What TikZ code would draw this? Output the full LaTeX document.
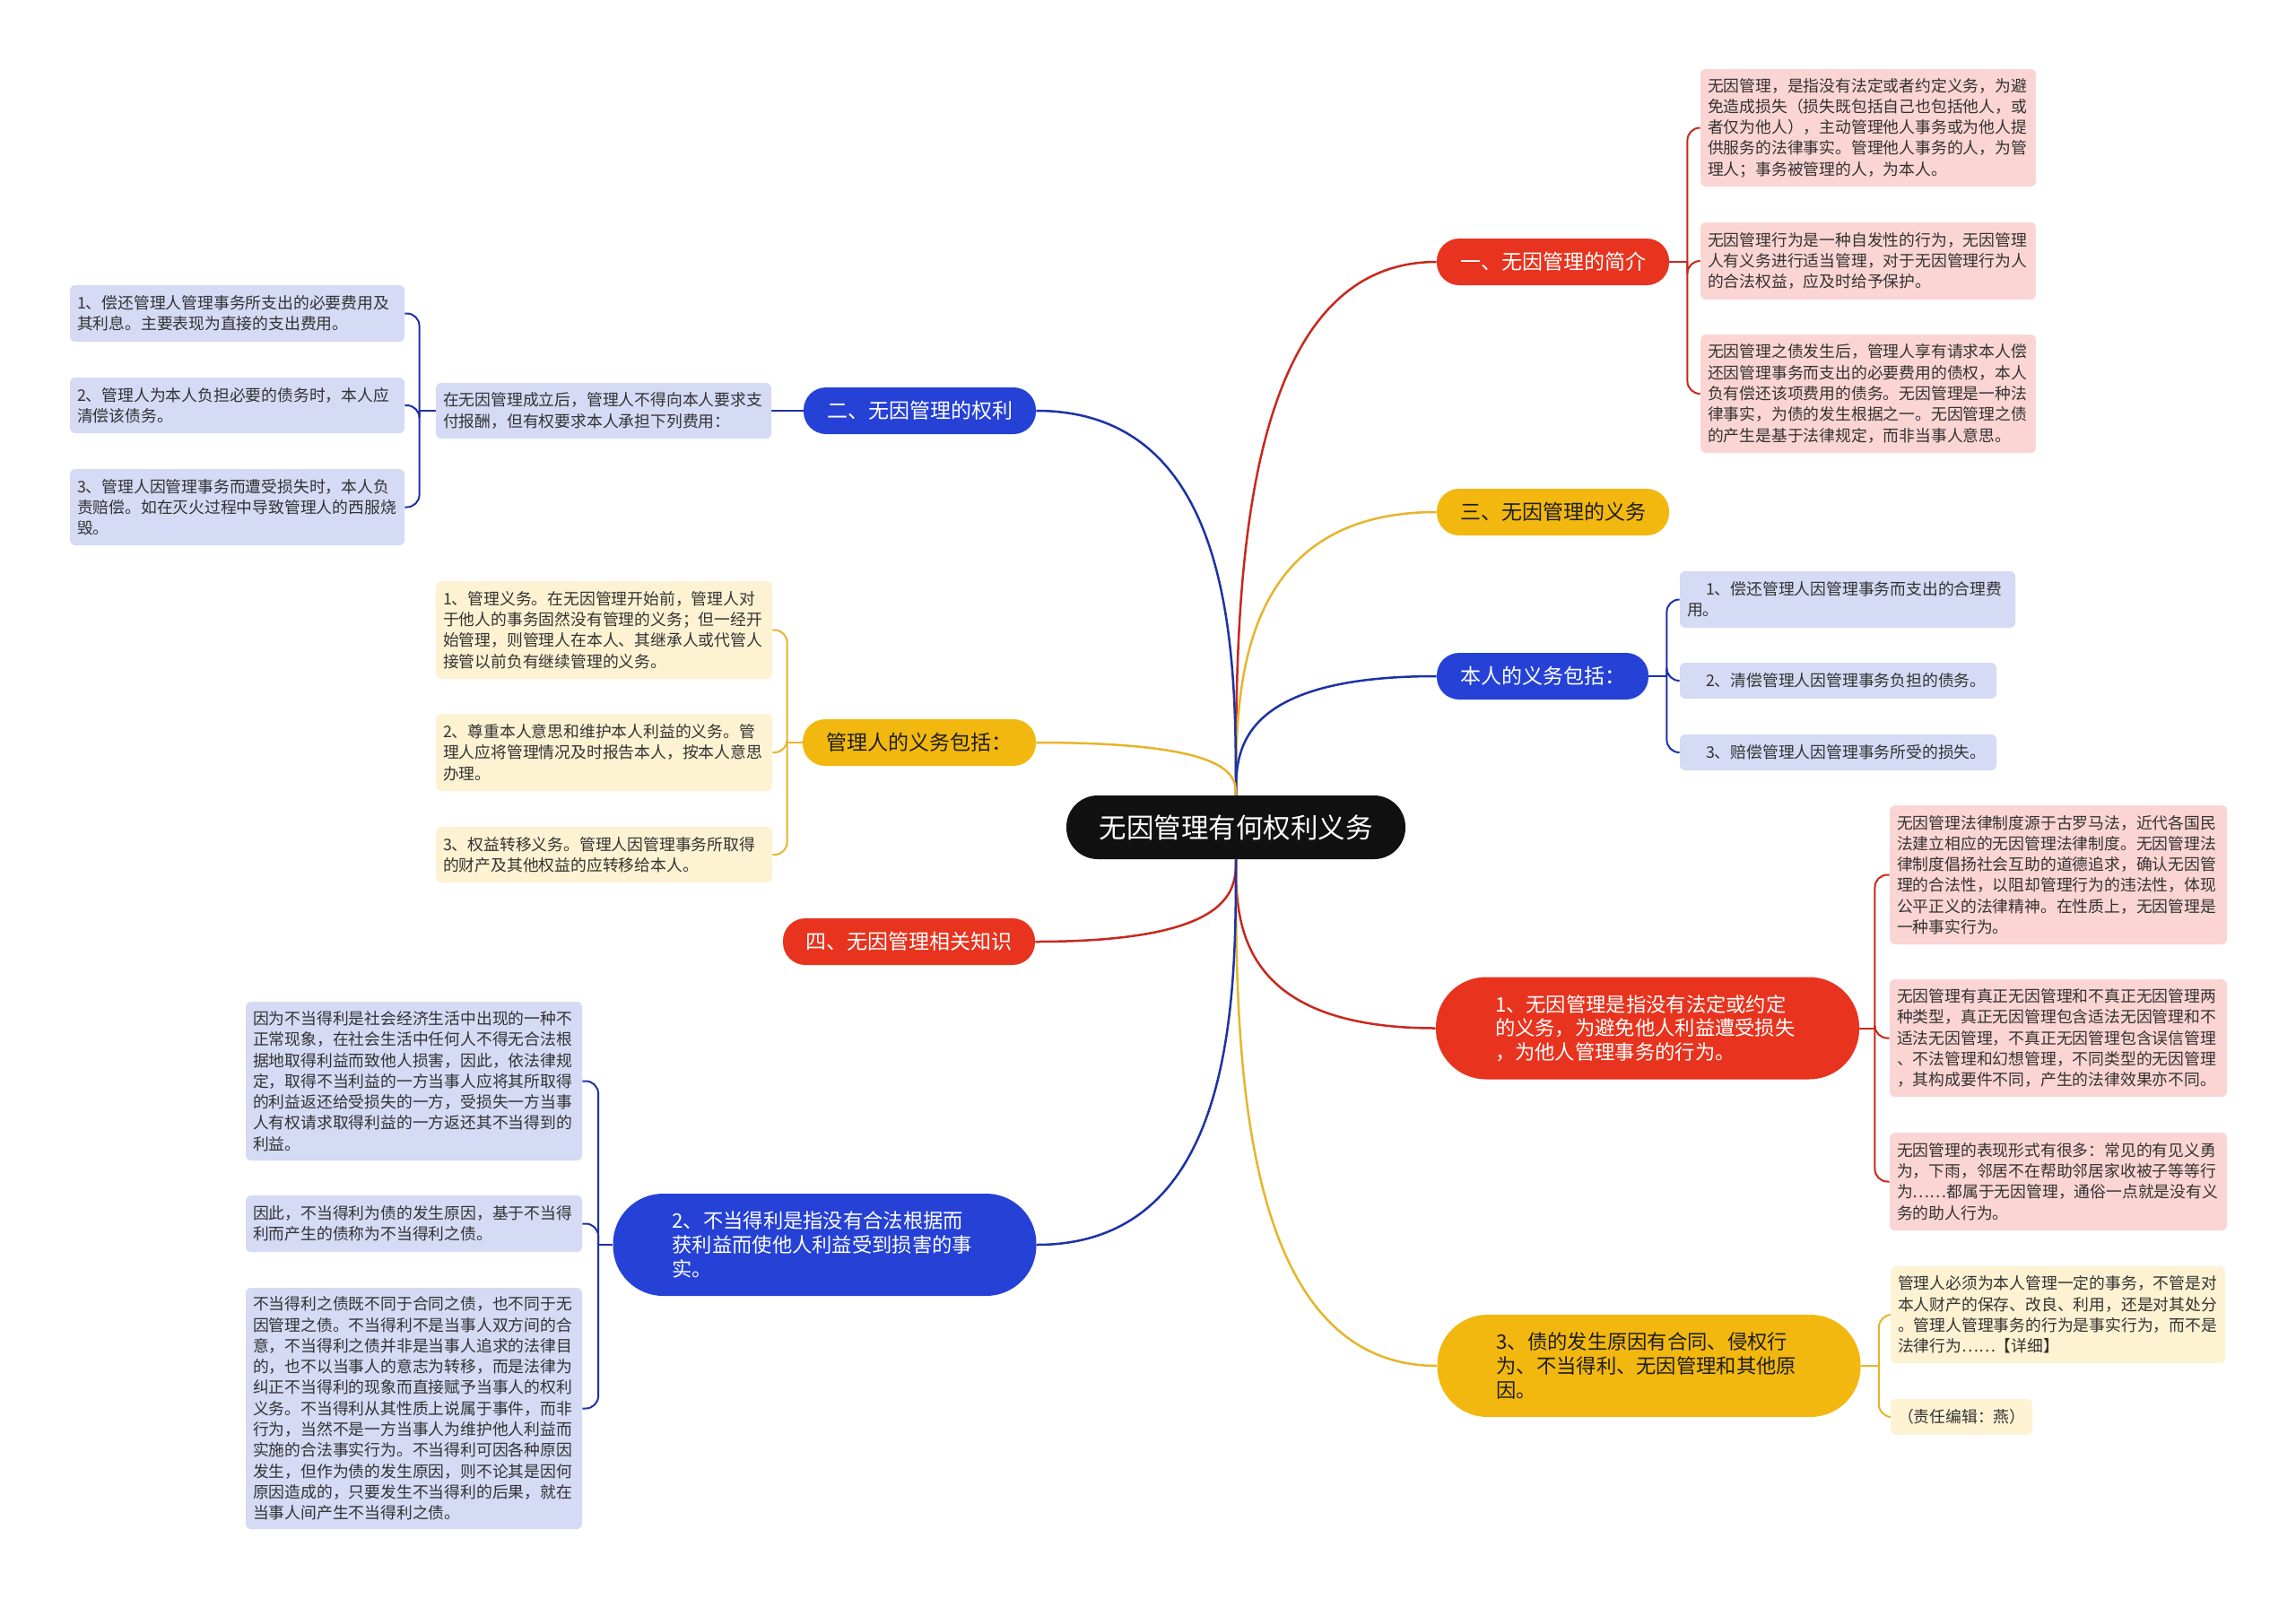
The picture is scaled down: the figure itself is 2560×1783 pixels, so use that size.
\documentclass[tikz,border=0pt]{standalone}
\usepackage{fontspec}
\newfontfamily\cjk{Noto Sans CJK SC}
\usetikzlibrary{calc,backgrounds}
\definecolor{redfill}{HTML}{E8331E}
\definecolor{redline}{HTML}{C8281E}
\definecolor{bluefill}{HTML}{2541D6}
\definecolor{blueline}{HTML}{1D32A6}
\definecolor{yellowfill}{HTML}{F2B80F}
\definecolor{yellowline}{HTML}{E6B52C}
\definecolor{pinkleaf}{HTML}{FBD5D3}
\definecolor{blueleaf}{HTML}{D5DAF5}
\definecolor{yellowleaf}{HTML}{FDF2D2}
\definecolor{leaftext}{HTML}{333333}
\definecolor{darktext}{HTML}{1E1E1E}
\definecolor{rootfill}{HTML}{111111}
\newcommand\mainlink[3]{%
  \draw[#3, line width=1.25pt] let \p1=(#1), \p2=(#2) in
    (\p1) .. controls (\x1,{\y1+0.36*(\y2-\y1)}) and (\x1,\y2) .. (\p2);}
\newcommand\brk[3]{\draw[#3, line width=1pt, rounded corners=7pt] (#1) |- (#2);}
\begin{document}
\begin{tikzpicture}[x=0.5pt,y=-0.5pt,
  leaf/.style={rounded corners=3pt, inner xsep=4pt, inner ysep=0pt, align=left,
    font=\cjk\fontsize{8.9pt}{11.65pt}\selectfont, text=leaftext},
  leafR/.style={leaf, fill=pinkleaf},
  leafB/.style={leaf, fill=blueleaf},
  leafY/.style={leaf, fill=yellowleaf},
  br/.style={rounded corners=12.5pt, minimum height=26pt, inner xsep=0pt, inner ysep=0pt,
    font=\cjk\fontsize{11.5pt}{13pt}\selectfont},
  brR/.style={br, fill=redfill, text=white},
  brB/.style={br, fill=bluefill, text=white},
  brY/.style={br, fill=yellowfill, text=darktext},
  big/.style={rounded corners=28pt, minimum height=57pt, minimum width=236pt, inner xsep=0pt,
    inner ysep=0pt, align=left, text width=170pt,
    font=\cjk\fontsize{11.15pt}{13.35pt}\selectfont},
  bigR/.style={big, fill=redfill, text=white},
  bigB/.style={big, fill=bluefill, text=white},
  bigY/.style={big, fill=yellowfill, text=darktext},
  rootbox/.style={rounded corners=17.5pt, minimum height=35.5pt, minimum width=189pt,
    fill=rootfill, text=white, font=\cjk\fontsize{15.25pt}{17pt}\selectfont},
  rl/.style={redline}, bl/.style={blueline}, yl/.style={yellowline}
]
\useasboundingbox (0,0) rectangle (2560,1783);

% root
\node[rootbox] (root) at (1378,922.5) {无因管理有何权利义务};

% right branches
\node[brR, minimum width=129.5pt] (A) at (1731.5,292) {一、无因管理的简介};
\node[brY, minimum width=129.5pt] (C) at (1731.5,571) {三、无因管理的义务};
\node[brB, minimum width=118pt] (D) at (1720,754) {本人的义务包括：};
\node[bigR] (E) at (1837,1146.5) {1、无因管理是指没有法定或约定\\的义务，为避免他人利益遭受损失\\，为他人管理事务的行为。};
\node[bigY] (F) at (1838.5,1523) {3、债的发生原因有合同、侵权行\\为、不当得利、无因管理和其他原\\因。};

% left branches
\node[brB, minimum width=129.5pt] (B) at (1025.5,458) {二、无因管理的权利};
\node[brY, minimum width=130pt] (G) at (1025,828) {管理人的义务包括：};
\node[brR, minimum width=140.5pt] (H) at (1013.5,1050) {四、无因管理相关知识};
\node[bigB] (K) at (919.5,1388) {2、不当得利是指没有合法根据而\\获利益而使他人利益受到损害的事\\实。};

% leaves of A
\node[leafR, text width=179pt, minimum height=65.5pt] (r1) at (2083,142.5) {无因管理，是指没有法定或者约定义务，为避\\免造成损失（损失既包括自己也包括他人，或\\者仅为他人），主动管理他人事务或为他人提\\供服务的法律事实。管理他人事务的人，为管\\理人；事务被管理的人，为本人。};
\node[leafR, text width=179pt, minimum height=43pt] (r2) at (2083,291) {无因管理行为是一种自发性的行为，无因管理\\人有义务进行适当管理，对于无因管理行为人\\的合法权益，应及时给予保护。};
\node[leafR, text width=179pt, minimum height=66pt] (r3) at (2083,439) {无因管理之债发生后，管理人享有请求本人偿\\还因管理事务而支出的必要费用的债权，本人\\负有偿还该项费用的债务。无因管理是一种法\\律事实，为债的发生根据之一。无因管理之债\\的产生是基于法律规定，而非当事人意思。};

% leaves of D
\node[leafB, text width=179pt, minimum height=31.5pt] (b1) at (2060,668.5) {\hspace*{10.5pt}1、偿还管理人因管理事务而支出的合理费\\用。};
\node[leafB, text width=168.5pt, minimum height=20pt] (b2) at (2049.5,759) {\hspace*{10.5pt}2、清偿管理人因管理事务负担的债务。};
\node[leafB, text width=168.5pt, minimum height=20pt] (b3) at (2049.5,839) {\hspace*{10.5pt}3、赔偿管理人因管理事务所受的损失。};

% leaves of E
\node[leafR, text width=180pt, minimum height=77.5pt] (s1) at (2295,975.5) {无因管理法律制度源于古罗马法，近代各国民\\法建立相应的无因管理法律制度。无因管理法\\律制度倡扬社会互助的道德追求，确认无因管\\理的合法性，以阻却管理行为的违法性，体现\\公平正义的法律精神。在性质上，无因管理是\\一种事实行为。};
\node[leafR, text width=180pt, minimum height=65.5pt] (s2) at (2295,1157.5) {无因管理有真正无因管理和不真正无因管理两\\种类型，真正无因管理包含适法无因管理和不\\适法无因管理，不真正无因管理包含误信管理\\、不法管理和幻想管理，不同类型的无因管理\\，其构成要件不同，产生的法律效果亦不同。};
\node[leafR, text width=180pt, minimum height=54.5pt] (s3) at (2295,1317.5) {无因管理的表现形式有很多：常见的有见义勇\\为，下雨，邻居不在帮助邻居家收被子等等行\\为……都属于无因管理，通俗一点就是没有义\\务的助人行为。};

% leaves of F
\node[leafY, text width=178.5pt, minimum height=54pt] (y1) at (2294.5,1466) {管理人必须为本人管理一定的事务，不管是对\\本人财产的保存、改良、利用，还是对其处分\\。管理人管理事务的行为是事实行为，而不是\\法律行为……【详细】};
\node[leafY, text width=71pt, minimum height=20pt] (y2) at (2187,1580) {（责任编辑：燕）};

% B chain
\node[leafB, text width=179pt, minimum height=31pt] (i) at (673,458) {在无因管理成立后，管理人不得向本人要求支\\付报酬，但有权要求本人承担下列费用：};
\node[leafB, text width=178.5pt, minimum height=31.5pt] (l1) at (264.5,349.5) {1、偿还管理人管理事务所支出的必要费用及\\其利息。主要表现为直接的支出费用。};
\node[leafB, text width=178.5pt, minimum height=31pt] (l2) at (264.5,452) {2、管理人为本人负担必要的债务时，本人应\\清偿该债务。};
\node[leafB, text width=178.5pt, minimum height=42.5pt] (l3) at (264.5,565.5) {3、管理人因管理事务而遭受损失时，本人负\\责赔偿。如在灭火过程中导致管理人的西服烧\\毁。};

% leaves of G
\node[leafY, text width=179.5pt, minimum height=54.5pt] (m1) at (673.5,702.5) {1、管理义务。在无因管理开始前，管理人对\\于他人的事务固然没有管理的义务；但一经开\\始管理，则管理人在本人、其继承人或代管人\\接管以前负有继续管理的义务。};
\node[leafY, text width=179.5pt, minimum height=43pt] (m2) at (673.5,839) {2、尊重本人意思和维护本人利益的义务。管\\理人应将管理情况及时报告本人，按本人意思\\办理。};
\node[leafY, text width=179.5pt, minimum height=31pt] (m3) at (673.5,953) {3、权益转移义务。管理人因管理事务所取得\\的财产及其他权益的应转移给本人。};

% leaves of K
\node[leafB, text width=179.5pt, minimum height=88.5pt] (n1) at (461.5,1205.5) {因为不当得利是社会经济生活中出现的一种不\\正常现象，在社会生活中任何人不得无合法根\\据地取得利益而致他人损害，因此，依法律规\\定，取得不当利益的一方当事人应将其所取得\\的利益返还给受损失的一方，受损失一方当事\\人有权请求取得利益的一方返还其不当得到的\\利益。};
\node[leafB, text width=179.5pt, minimum height=31.5pt] (n2) at (461.5,1364.5) {因此，不当得利为债的发生原因，基于不当得\\利而产生的债称为不当得利之债。};
\node[leafB, text width=179.5pt, minimum height=134.5pt] (n3) at (461.5,1570.5) {不当得利之债既不同于合同之债，也不同于无\\因管理之债。不当得利不是当事人双方间的合\\意，不当得利之债并非是当事人追求的法律目\\的，也不以当事人的意志为转移，而是法律为\\纠正不当得利的现象而直接赋予当事人的权利\\义务。不当得利从其性质上说属于事件，而非\\行为，当然不是一方当事人为维护他人利益而\\实施的合法事实行为。不当得利可因各种原因\\发生，但作为债的发生原因，则不论其是因何\\原因造成的，只要发生不当得利的后果，就在\\当事人间产生不当得利之债。};

% spine coordinates
\coordinate (sA) at ($(A.east)+(20,0)$);
\coordinate (sD) at ($(D.east)+(20,0)$);
\coordinate (sE) at ($(E.east)+(17,0)$);
\coordinate (sF) at ($(F.east)+(20,0)$);
\coordinate (sI) at ($(i.west)+(-18,0)$);
\coordinate (sG) at ($(G.west)+(-17,0)$);
\coordinate (sK) at ($(K.west)+(-16,0)$);

\begin{scope}[on background layer]
  \fill[white] (0,0) rectangle (2560,1783);
  % main links
  \mainlink{root.north}{A.west}{rl}
  \mainlink{root.north}{C.west}{yl}
  \mainlink{root.north}{D.west}{bl}
  \mainlink{root.south}{E.west}{rl}
  \mainlink{root.south}{F.west}{yl}
  \mainlink{root.north}{B.east}{bl}
  \mainlink{root.north}{G.east}{yl}
  \mainlink{root.south}{H.east}{rl}
  \mainlink{root.south}{K.east}{bl}
  % brackets
  \draw[rl, line width=1pt] (A.east) -- (sA);
  \brk{sA}{r1.west}{rl} \brk{sA}{r2.west}{rl} \brk{sA}{r3.west}{rl}
  \draw[bl, line width=1pt] (D.east) -- (sD);
  \brk{sD}{b1.west}{bl} \brk{sD}{b2.west}{bl} \brk{sD}{b3.west}{bl}
  \draw[rl, line width=1pt] (E.east) -- (sE);
  \brk{sE}{s1.west}{rl} \brk{sE}{s2.west}{rl} \brk{sE}{s3.west}{rl}
  \draw[yl, line width=1pt] (F.east) -- (sF);
  \brk{sF}{y1.west}{yl} \brk{sF}{y2.west}{yl}
  \draw[bl, line width=1pt] (B.west) -- (i.east);
  \draw[bl, line width=1pt] (i.west) -- (sI);
  \brk{sI}{l1.east}{bl} \brk{sI}{l2.east}{bl} \brk{sI}{l3.east}{bl}
  \draw[yl, line width=1pt] (G.west) -- (sG);
  \brk{sG}{m1.east}{yl} \brk{sG}{m2.east}{yl} \brk{sG}{m3.east}{yl}
  \draw[bl, line width=1pt] (K.west) -- (sK);
  \brk{sK}{n1.east}{bl} \brk{sK}{n2.east}{bl} \brk{sK}{n3.east}{bl}
\end{scope}
\end{tikzpicture}
\end{document}
